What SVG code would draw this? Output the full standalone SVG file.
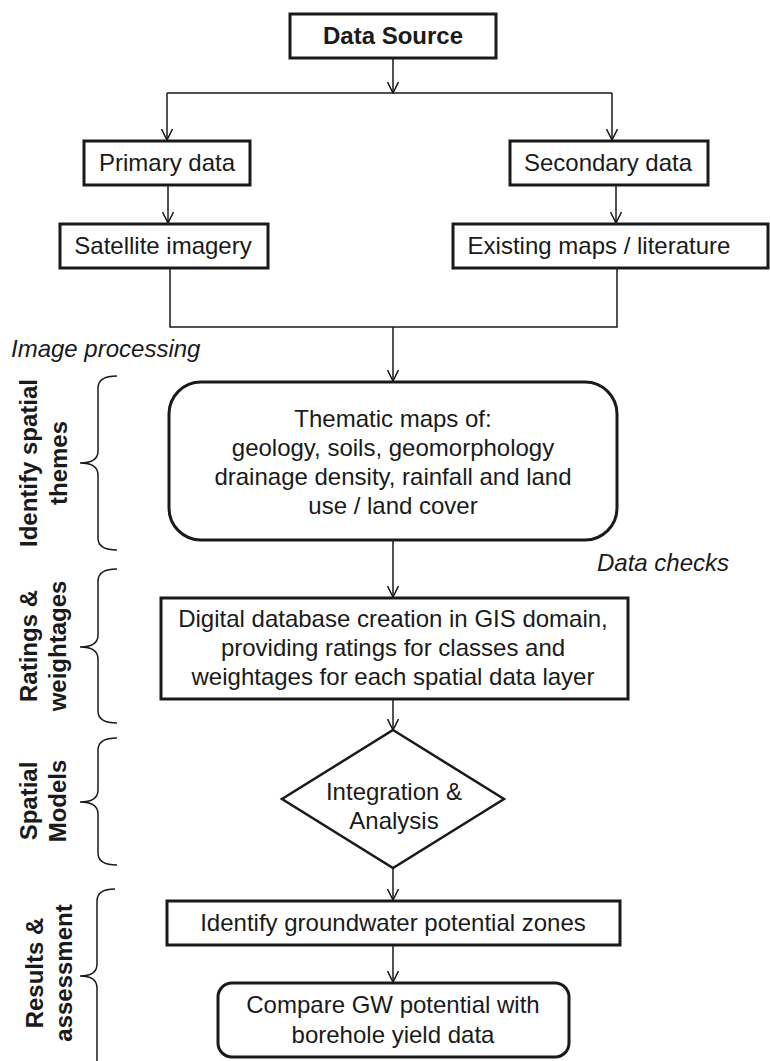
<svg xmlns="http://www.w3.org/2000/svg" width="770" height="1061" viewBox="0 0 770 1061">
<defs>
<style>
.box{fill:#fff;stroke:#1a1a1a;stroke-width:3}
.conn{fill:none;stroke:#1a1a1a;stroke-width:1.5}
.brace{fill:none;stroke:#1a1a1a;stroke-width:1.5}
.t{font-family:"Liberation Sans",Arial,sans-serif;font-size:24px;fill:#1a1a1a;text-anchor:middle}
.b{font-weight:bold}
.i{font-style:italic;text-anchor:start}
.lab{font-family:"Liberation Sans",Arial,sans-serif;font-size:24px;font-weight:bold;fill:#1a1a1a;text-anchor:middle}
</style>
<marker id="arr" viewBox="0 0 12 12" refX="11" refY="6" markerWidth="12" markerHeight="12" markerUnits="userSpaceOnUse" orient="auto">
<path d="M0,0.5 L11,6 L0,11.5" fill="none" stroke="#1a1a1a" stroke-width="1.5"/>
</marker>
</defs>
<rect width="770" height="1061" fill="#fff"/>

<g id="connectors">
<line class="conn" x1="393" y1="58" x2="393" y2="93" marker-end="url(#arr)"/>
<line class="conn" x1="167" y1="93" x2="612" y2="93"/>
<line class="conn" x1="167" y1="93" x2="167" y2="140" marker-end="url(#arr)"/>
<line class="conn" x1="612" y1="93" x2="612" y2="140" marker-end="url(#arr)"/>
<line class="conn" x1="168" y1="185" x2="168" y2="223" marker-end="url(#arr)"/>
<line class="conn" x1="616" y1="185" x2="616" y2="223" marker-end="url(#arr)"/>
<polyline class="conn" points="170,268 170,327 617,327 617,268"/>
<line class="conn" x1="393" y1="327" x2="393" y2="381" marker-end="url(#arr)"/>
<line class="conn" x1="393" y1="541" x2="393" y2="597" marker-end="url(#arr)"/>
<line class="conn" x1="393" y1="699" x2="393" y2="730" marker-end="url(#arr)"/>
<line class="conn" x1="393" y1="868" x2="393" y2="900" marker-end="url(#arr)"/>
<line class="conn" x1="393" y1="946" x2="393" y2="982" marker-end="url(#arr)"/>
</g>

<g id="data-source">
<rect class="box" x="290" y="14" width="206" height="44"/>
<text class="t b" x="393" y="44">Data Source</text>
</g>
<g id="primary-data">
<rect class="box" x="84" y="141" width="166" height="44"/>
<text class="t" x="167" y="171">Primary data</text>
</g>
<g id="secondary-data">
<rect class="box" x="510" y="141" width="198" height="44"/>
<text class="t" x="608" y="171">Secondary data</text>
</g>
<g id="satellite-imagery">
<rect class="box" x="60" y="224" width="208" height="44"/>
<text class="t" x="163" y="254">Satellite imagery</text>
</g>
<g id="existing-maps">
<rect class="box" x="453" y="224" width="315" height="44"/>
<text class="t" x="599" y="254">Existing maps / literature</text>
</g>

<text class="t i" x="11" y="357">Image processing</text>
<text class="t i" x="597" y="571">Data checks</text>

<g id="thematic-maps">
<rect class="box" x="169" y="382" width="448" height="158" rx="32" ry="32"/>
<text class="t" x="393" y="427">Thematic maps of:</text>
<text class="t" x="393" y="456">geology, soils, geomorphology</text>
<text class="t" x="393" y="485">drainage density, rainfall and land</text>
<text class="t" x="393" y="514">use / land cover</text>
</g>
<g id="digital-database">
<rect class="box" x="161" y="598" width="467" height="101"/>
<text class="t" x="393" y="627">Digital database creation in GIS domain,</text>
<text class="t" x="393" y="656">providing ratings for classes and</text>
<text class="t" x="393" y="685">weightages for each spatial data layer</text>
</g>
<g id="integration-analysis">
<polygon class="box" points="393,730 504,799 393,868 282,799" style="stroke-width:2.5"/>
<text class="t" x="394" y="800">Integration &amp;</text>
<text class="t" x="394" y="829">Analysis</text>
</g>
<g id="gw-zones">
<rect class="box" x="167" y="901" width="453" height="44"/>
<text class="t" x="393" y="931">Identify groundwater potential zones</text>
</g>
<g id="compare">
<rect class="box" x="218" y="983" width="351" height="74" rx="14" ry="14"/>
<text class="t" x="393" y="1013">Compare GW potential with</text>
<text class="t" x="393" y="1043">borehole yield data</text>
</g>

<g id="stage-identify">
<path class="brace" d="M117,376 Q98,376 98,388 L98,451 Q98,463 80,463 Q98,463 98,475 L98,538 Q98,550 117,550"/>
<text class="lab" transform="translate(0,463) rotate(-90)" x="0" y="37">Identify spatial</text>
<text class="lab" transform="translate(0,463) rotate(-90)" x="0" y="67">themes</text>
</g>
<g id="stage-ratings">
<path class="brace" d="M117,569 Q98,569 98,581 L98,635 Q98,647 80,647 Q98,647 98,659 L98,711 Q98,723 117,723"/>
<text class="lab" transform="translate(0,646) rotate(-90)" x="0" y="37">Ratings &amp;</text>
<text class="lab" transform="translate(0,646) rotate(-90)" x="0" y="66">weightages</text>
</g>
<g id="stage-spatial">
<path class="brace" d="M117,738 Q98,738 98,750 L98,790 Q98,802 80,802 Q98,802 98,814 L98,853 Q98,865 117,865"/>
<text class="lab" transform="translate(0,801) rotate(-90)" x="0" y="37">Spatial</text>
<text class="lab" transform="translate(0,801) rotate(-90)" x="0" y="66">Models</text>
</g>
<g id="stage-results">
<path class="brace" d="M115,889 Q97,889 97,901 L97,964 Q97,976 80,976 Q97,976 97,988 L97,1070"/>
<text class="lab" transform="translate(0,973) rotate(-90)" x="0" y="43">Results &amp;</text>
<text class="lab" transform="translate(0,973) rotate(-90)" x="0" y="72">assessment</text>
</g>
</svg>
